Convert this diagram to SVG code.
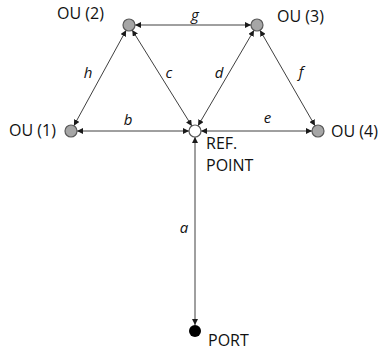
<svg xmlns="http://www.w3.org/2000/svg" width="379" height="353" viewBox="0 0 379 353">
<style>
.ou{fill:#a6a6a6;stroke:#595959;stroke-width:1.2}
.ref{fill:#ffffff;stroke:#595959;stroke-width:1.2}
.port{fill:#000000}
.lbl{font-family:"Open Sans","Liberation Sans",sans-serif;font-size:16px;fill:#111111}
.it{font-family:"Open Sans","Liberation Sans",sans-serif;font-size:15px;font-style:italic;fill:#111111;text-anchor:middle}
.conn line{stroke:#404040;stroke-width:1;marker-start:url(#ah);marker-end:url(#ah)}
</style>
<defs>
<marker id="ah" markerUnits="userSpaceOnUse" markerWidth="6" markerHeight="6" refX="6" refY="3" orient="auto-start-reverse">
<path d="M0,0 L6,3 L0,6 z" fill="#1a1a1a"/>
</marker>
</defs>
<rect width="379" height="353" fill="#ffffff"/>
<g id="connectors" class="conn">
<line x1="77" y1="131" x2="189" y2="131"/>
<line x1="201" y1="131" x2="312" y2="131"/>
<line x1="135" y1="25" x2="251" y2="25"/>
<line x1="73.9" y1="125.7" x2="126.1" y2="30.3"/>
<line x1="132.2" y1="30.1" x2="191.8" y2="125.9"/>
<line x1="198" y1="125.8" x2="254" y2="30.2"/>
<line x1="260" y1="30.2" x2="315" y2="125.8"/>
<line x1="195" y1="137" x2="195" y2="325"/>
</g>
<g id="labels">
<text class="it" x="88" y="78">h</text>
<text class="it" x="169" y="78">c</text>
<text class="it" x="128" y="125">b</text>
<text class="it" x="195" y="20">g</text>
<text class="it" x="219" y="78">d</text>
<text class="it" x="301" y="77">f</text>
<text class="it" x="267.5" y="123">e</text>
<text class="it" x="184" y="233">a</text>
</g>
<g id="ou1"><circle class="ou" cx="71" cy="131" r="6"/><text class="lbl" x="9" y="136">OU (1)</text></g>
<g id="ou2"><circle class="ou" cx="129" cy="25" r="6"/><text class="lbl" x="57" y="18.5">OU (2)</text></g>
<g id="ou3"><circle class="ou" cx="257" cy="25" r="6"/><text class="lbl" x="277" y="21.5">OU (3)</text></g>
<g id="ou4"><circle class="ou" cx="318" cy="131" r="6"/><text class="lbl" x="331" y="137">OU (4)</text></g>
<g id="ref"><circle class="ref" cx="195" cy="131" r="6"/><text class="lbl" x="206" y="149">REF.</text><text class="lbl" x="206" y="171">POINT</text></g>
<g id="port"><circle class="port" cx="195" cy="331" r="6"/><text class="lbl" x="208" y="346">PORT</text></g>
</svg>
